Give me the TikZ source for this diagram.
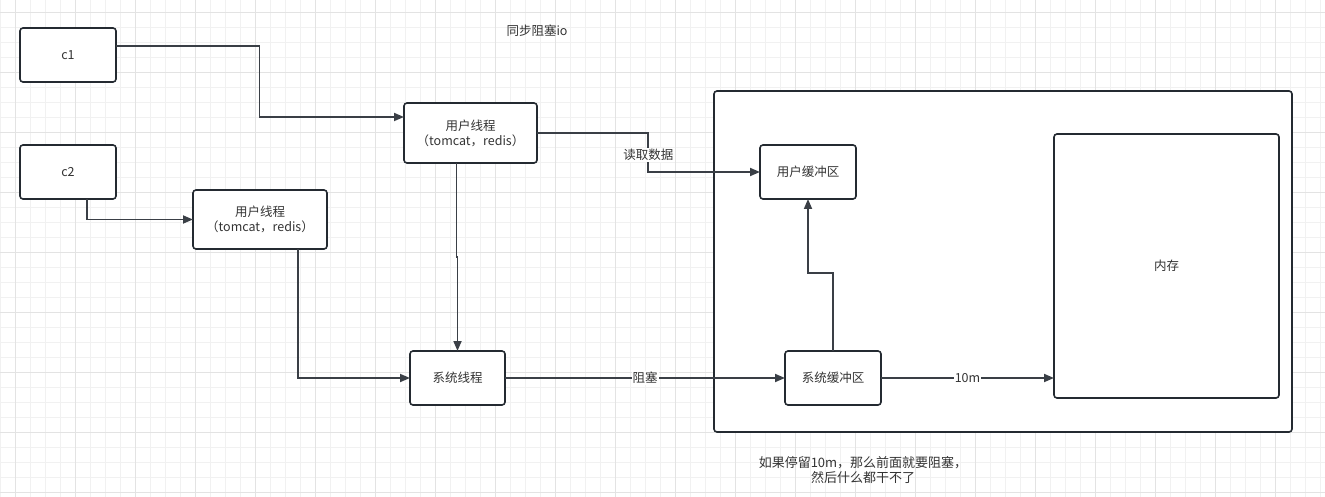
\documentclass[tikz,border=0pt]{standalone}
\usepackage{fontspec}
\setmainfont{Noto Sans CJK SC}
\usetikzlibrary{arrows.meta}
\definecolor{gridminor}{HTML}{F1F1F1}
\definecolor{gridmajor}{HTML}{E3E3E3}
\definecolor{edge}{HTML}{242A31}
\definecolor{txt}{HTML}{333333}
\tikzset{
  box/.style={draw=edge, line width=1.6pt, rounded corners=3pt, fill=white, inner sep=0pt, outer sep=0pt, text=txt, align=center, font=\fontsize{12.5}{15}\selectfont},
  conn/.style={draw=edge!90!white, line width=1.7pt, -{Triangle[length=10pt,width=8pt]}},
  elabel/.style={fill=white, inner sep=1pt, text=txt, font=\fontsize{12.5}{14}\selectfont},
  plain/.style={text=txt, align=center, font=\fontsize{12.5}{15}\selectfont}
}
\begin{document}
\begin{tikzpicture}[x=1pt,y=-1pt]
\useasboundingbox (0,0) rectangle (1325,497);
\fill[white] (0,0) rectangle (1325,497);
% grid
\foreach \k in {0,...,88} {\draw[gridminor, line width=1pt] ({0.7+15*\k},0) -- ({0.7+15*\k},497);}
\foreach \k in {-1,...,33} {\draw[gridminor, line width=1pt] (0,{12.3+15*\k}) -- (1325,{12.3+15*\k});}
\foreach \k in {0,...,22} {\draw[gridmajor, line width=1pt] ({15.7+60*\k},0) -- ({15.7+60*\k},497);}
\foreach \k in {0,...,8} {\draw[gridmajor, line width=1pt] (0,{12.3+60*\k}) -- (1325,{12.3+60*\k});}

% container
\node[box, minimum width=578pt, minimum height=341pt] (cont) at (1003,261.5) {};
\node[box, minimum width=225pt, minimum height=264pt] (mem) at (1166.5,266) {内存};

\node[box, minimum width=96pt, minimum height=54pt] (c1) at (68,55) {c1};
\node[box, minimum width=96pt, minimum height=54pt] (c2) at (68,172) {c2};
\node[box, minimum width=134pt, minimum height=59pt] (ut2) at (260,219.5) {用户线程\\（tomcat，redis）};
\node[box, minimum width=133pt, minimum height=60pt] (ut1) at (470.5,133) {用户线程\\（tomcat，redis）};
\node[box, minimum width=95pt, minimum height=54pt] (sys) at (457.5,378) {系统线程};
\node[box, minimum width=96pt, minimum height=54pt] (sysbuf) at (833,378) {系统缓冲区};
\node[box, minimum width=96pt, minimum height=54pt] (userbuf) at (808,172) {用户缓冲区};

\node[plain] (title) at (537,31) {同步阻塞io};
\node[plain, font=\fontsize{13}{15}\selectfont] (note) at (863,470.5) {如果停留10m，那么前面就要阻塞，\\然后什么都干不了};

% connectors
\draw[conn] ([yshift=9pt]c1.east) -| (259.5,117) -- ([yshift=16pt]ut1.west);
\draw[conn] ([xshift=19pt]c2.south) |- (ut2.west);
\draw[conn] (ut1.east) -- (648.3,133) -- (648.3,172) -- (userbuf.west);
\node[elabel] (lread) at (648.3,155) {读取数据};
\draw[conn] ([xshift=-14pt]ut1.south) -- (456.5,257) -| (sys.north);
\draw[conn] ([xshift=38pt]ut2.south) |- (sys.west);
\draw[conn] (sys.east) -- node[elabel] (lblock) {阻塞} (sysbuf.west);
\draw[conn] (sysbuf.north) -- (833,273) -| (userbuf.south);
\draw[conn] (sysbuf.east) -- node[elabel] (l10m) {10m} (mem.west |- sysbuf.east);
\end{tikzpicture}
\end{document}
